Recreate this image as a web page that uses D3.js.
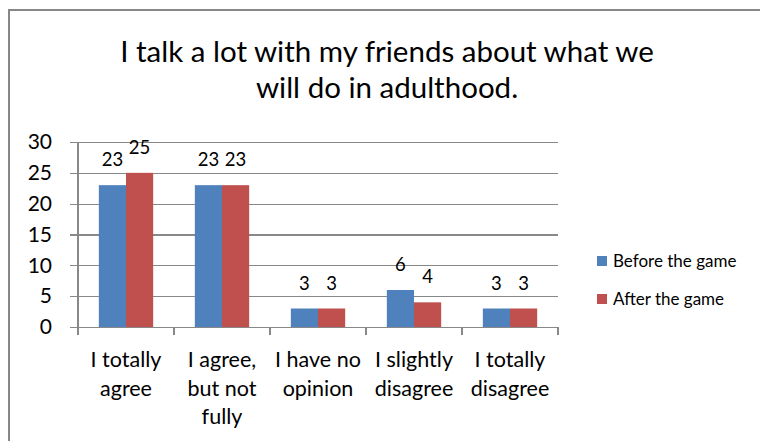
<!DOCTYPE html>
<html>
<head>
<meta charset="utf-8">
<script src="https://cdn.jsdelivr.net/npm/d3@7"></script>
<style>
  html, body { margin: 0; padding: 0; background: #fff; }
  svg { display: block; font-family: Lato, "Open Sans", sans-serif; }
</style>
</head>
<body>
<svg id="chart" width="760" height="441"></svg>
<script>
// Survey answers, before and after playing the game
const categories = [
  "I totally\nagree",
  "I agree,\nbut not\nfully",
  "I have no\nopinion",
  "I slightly\ndisagree",
  "I totally\ndisagree"
];
const seriesNames = ["Before the game", "After the game"];
const beforeValues = [23, 23, 3, 6, 3];
const afterValues = [25, 23, 3, 4, 3];
const yTicks = [0, 5, 10, 15, 20, 25, 30];
const titleLines = ["I talk a lot with my friends about what we", "will do in adulthood."];
const colors = ["#4F81BD", "#C0504D"];

const svg = d3.select("#chart");

// outer frame (runs off the right and bottom edges)
svg.append("rect")
  .attr("x", 9).attr("y", 10)
  .attr("width", 800).attr("height", 460)
  .attr("fill", "#fff")
  .attr("stroke", "#878787")
  .attr("stroke-width", 2);

// title
svg.append("g").selectAll("text")
  .data(titleLines)
  .join("text")
  .attr("x", 387)
  .attr("y", (d, i) => 62 + i * 36)
  .attr("text-anchor", "middle")
  .attr("font-size", 29.5)
  .attr("fill", "#000")
  .text(d => d);

const plot = { left: 78, right: 558, top: 142, bottom: 327 };

const x = d3.scaleBand()
  .domain(d3.range(categories.length))
  .range([plot.left, plot.right])
  .paddingInner(0)
  .paddingOuter(0);

const y = d3.scaleLinear()
  .domain([0, 30])
  .range([plot.bottom, plot.top]);

const barW = x.bandwidth() * 0.283;
const x1 = d3.scaleBand()
  .domain([0, 1])
  .range([0, barW * 2]);
const groupOffset = (x.bandwidth() - barW * 2) / 2;

// horizontal gridlines with the left tick marks
const yAxis = d3.axisLeft(y)
  .tickValues(yTicks)
  .tickSize(-(plot.right - plot.left) - 8)
  .tickPadding(18)
  .tickFormat(d3.format("d"));

const gy = svg.append("g")
  .attr("transform", `translate(${plot.left - 8},0)`)
  .call(yAxis);
gy.select(".domain").remove();
gy.selectAll(".tick line")
  .attr("stroke", "#888")
  .attr("stroke-width", 1.2)
  .attr("shape-rendering", "crispEdges");
gy.selectAll(".tick text")
  .attr("font-size", 21)
  .attr("fill", "#000")
  .attr("font-family", "Lato, 'Open Sans', sans-serif");

// vertical axis line
svg.append("line")
  .attr("x1", plot.left).attr("x2", plot.left)
  .attr("y1", plot.top).attr("y2", plot.bottom)
  .attr("stroke", "#888").attr("stroke-width", 1.2)
  .attr("shape-rendering", "crispEdges");

// category tick marks under the baseline
const catTicks = d3.range(categories.length + 1).map(i =>
  i < categories.length ? x(i) : x(categories.length - 1) + x.bandwidth());
svg.append("g").selectAll("line")
  .data(catTicks)
  .join("line")
  .attr("x1", d => d).attr("x2", d => d)
  .attr("y1", plot.bottom).attr("y2", plot.bottom + 8)
  .attr("stroke", "#888").attr("stroke-width", 1.2)
  .attr("shape-rendering", "crispEdges");

// bars
const series = [beforeValues, afterValues];
const groups = svg.append("g").selectAll("g")
  .data(categories.map((c, i) => ({ i, vals: series.map(s => s[i]) })))
  .join("g")
  .attr("transform", d => `translate(${x(d.i) + groupOffset},0)`);

groups.selectAll("rect")
  .data(d => d.vals.map((v, k) => ({ v, k })))
  .join("rect")
  .attr("x", d => x1(d.k))
  .attr("y", d => y(d.v))
  .attr("width", x1.bandwidth())
  .attr("height", d => y(0) - y(d.v))
  .attr("fill", d => colors[d.k]);

// value labels
groups.selectAll("text")
  .data(d => d.vals.map((v, k) => ({ v, k })))
  .join("text")
  .attr("x", d => x1(d.k) + x1.bandwidth() / 2)
  .attr("y", d => y(d.v) - 19)
  .attr("text-anchor", "middle")
  .attr("font-size", 18.5)
  .attr("fill", "#000")
  .text(d => d.v);

// category labels
const catLabels = svg.append("g").selectAll("text")
  .data(categories)
  .join("text")
  .attr("text-anchor", "middle")
  .attr("font-size", 21.5)
  .attr("fill", "#000");
catLabels.each(function (d, i) {
  const t = d3.select(this);
  d.split("\n").forEach((line, j) => {
    t.append("tspan")
      .attr("x", x(i) + x.bandwidth() / 2)
      .attr("y", 367 + j * 28.5)
      .text(line);
  });
});

// legend
const legend = svg.append("g").selectAll("g")
  .data(seriesNames)
  .join("g")
  .attr("transform", (d, i) => `translate(597,${256 + i * 38})`);
legend.append("rect")
  .attr("width", 10).attr("height", 10)
  .attr("fill", (d, i) => colors[i]);
legend.append("text")
  .attr("x", 16).attr("y", 11)
  .attr("font-size", 17)
  .attr("fill", "#000")
  .text(d => d);
</script>
</body>
</html>
